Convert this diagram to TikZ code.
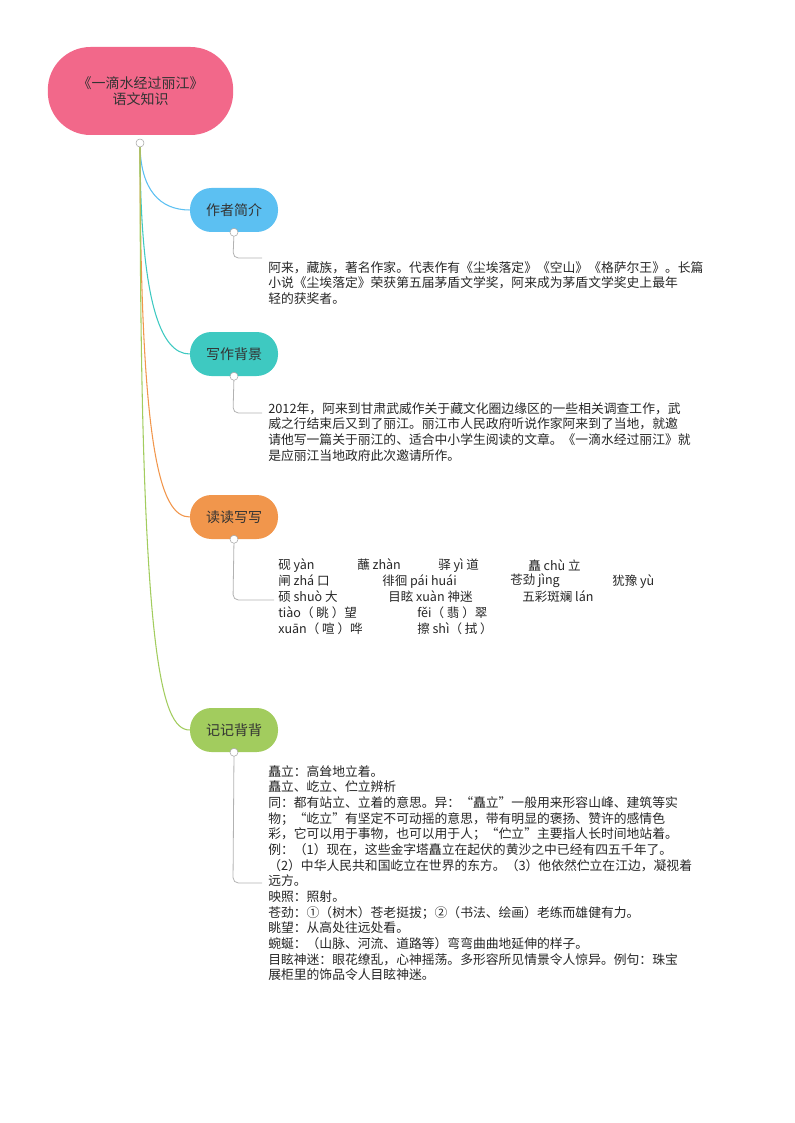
\documentclass[tikz,border=0pt]{standalone}
\usepackage{fontspec}
\setmainfont{Noto Sans CJK SC}
\begin{document}
\begin{tikzpicture}[x=0.75pt,y=-0.75pt,
  topic/.style={rounded corners=16pt,minimum width=66pt,minimum height=33pt,text=black!80,font=\fontsize{10.5}{12}\selectfont,inner sep=0pt},
  body/.style={anchor=north west,align=left,inner sep=0pt,font=\fontsize{9.6}{11.75}\selectfont,text=black!85},
  itm/.style={anchor=west,inner sep=0pt,font=\fontsize{9.4}{11.7}\selectfont,text=black!85},
  knob/.style={circle,draw=gray!70,fill=white,inner sep=0pt,minimum size=6pt},
  lnk/.style={line width=0.8pt},
  sub/.style={gray!60,line width=0.6pt,rounded corners=4pt}]
\useasboundingbox (0,0) rectangle (794,1123);
\definecolor{cpink}{HTML}{F2688A}
\definecolor{cblue}{HTML}{5CC0F2}
\definecolor{cteal}{HTML}{3EC9C1}
\definecolor{corange}{HTML}{F1964C}
\definecolor{cgreen}{HTML}{A2CC5E}
\node[fill=cpink,rounded corners=32pt,minimum width=139pt,minimum height=66pt,align=center,text=black!80,font=\fontsize{10.5}{12.5}\selectfont] (root) at (140.5,91) {《一滴水经过丽江》\\语文知识};
\coordinate (rk) at (140,143);
\node[topic,fill=cblue] (t1) at (234,210) {作者简介};
\node[topic,fill=cteal] (t2) at (234,354) {写作背景};
\node[topic,fill=corange] (t3) at (234,517) {读读写写};
\node[topic,fill=cgreen] (t4) at (234,730) {记记背背};
\draw[lnk,cblue] (rk) .. controls (140,190) and (160,210) .. (t1.west);
\draw[lnk,cteal] (rk) .. controls (140,300) and (160,354) .. (t2.west);
\draw[lnk,corange] (rk) .. controls (140,450) and (160,517) .. (t3.west);
\draw[lnk,cgreen] (rk) .. controls (140,650) and (160,730) .. (t4.west);
\node[knob] at (rk) {};
\node[body] (b1) at (268,261) {阿来，藏族，著名作家。代表作有《尘埃落定》《空山》《格萨尔王》。长篇\\小说《尘埃落定》荣获第五届茅盾文学奖，阿来成为茅盾文学奖史上最年\\轻的获奖者。};
\node[body] (b2) at (268,402) {2012年，阿来到甘肃武威作关于藏文化圈边缘区的一些相关调查工作，武\\威之行结束后又到了丽江。丽江市人民政府听说作家阿来到了当地，就邀\\请他写一篇关于丽江的、适合中小学生阅读的文章。《一滴水经过丽江》就\\是应丽江当地政府此次邀请所作。};
\node[body] (b4) at (268,765) {矗立：高耸地立着。\\矗立、屹立、伫立辨析\\同：都有站立、立着的意思。异：“矗立”一般用来形容山峰、建筑等实\\物；“屹立”有坚定不可动摇的意思，带有明显的褒扬、赞许的感情色\\彩，它可以用于事物，也可以用于人；“伫立”主要指人长时间地站着。\\例：（1）现在，这些金字塔矗立在起伏的黄沙之中已经有四五千年了。\\（2）中华人民共和国屹立在世界的东方。（3）他依然伫立在江边，凝视着\\远方。\\映照：照射。\\苍劲：①（树木）苍老挺拔；②（书法、绘画）老练而雄健有力。\\眺望：从高处往远处看。\\蜿蜒：（山脉、河流、道路等）弯弯曲曲地延伸的样子。\\目眩神迷：眼花缭乱，心神摇荡。多形容所见情景令人惊异。例句：珠宝\\展柜里的饰品令人目眩神迷。};
\node[itm] (c11) at (278,565) {砚 yàn};
\node[itm] (c12) at (357,565) {蘸 zhàn};
\node[itm] (c13) at (438,565) {驿 yì 道};
\node[itm] (c14) at (528,565) {矗 chù 立};
\node[itm] (c21) at (278,581) {闸 zhá 口};
\node[itm] (c22) at (382,581) {徘徊 pái huái};
\node[itm] (c23) at (510,581) {苍劲 jìng};
\node[itm] (c24) at (612,581) {犹豫 yù};
\node[itm] (c31) at (278,597) {硕 shuò 大};
\node[itm] (c32) at (388,597) {目眩 xuàn 神迷};
\node[itm] (c33) at (522,597) {五彩斑斓 lán};
\node[itm] (c41) at (278,613) {tiào（ 眺 ）望};
\node[itm] (c42) at (417,613) {fěi（ 翡 ）翠};
\node[itm] (c51) at (278,629) {xuān（ 喧 ）哗};
\node[itm] (c52) at (417,629) {擦 shì（ 拭 ）};
\foreach \t/\y/\e in {t1/258/262, t2/413/262, t3/600/274, t4/883/262}{
  \coordinate (k\t) at (233,\y);
  \draw[sub] (\t.south) -- (k\t) -- (\e,\y);
  \node[knob] at (\t.south) {};
}
\end{tikzpicture}
\end{document}
